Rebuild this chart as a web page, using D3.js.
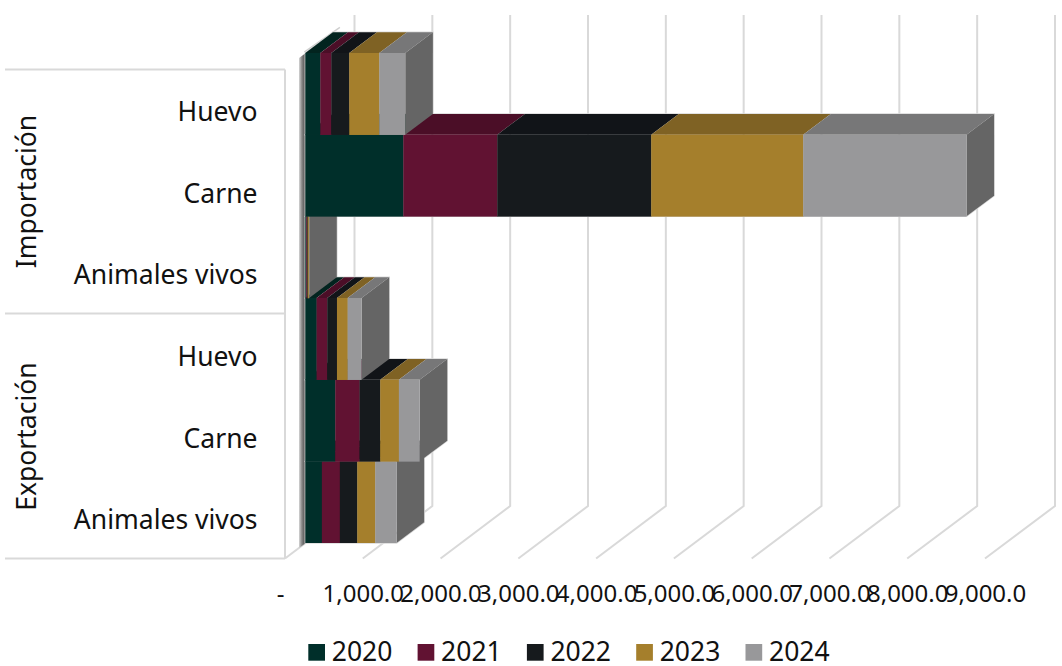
<!DOCTYPE html>
<html><head><meta charset="utf-8">
<script src="https://cdn.jsdelivr.net/npm/d3@7/dist/d3.min.js"></script>
<style>html,body{margin:0;padding:0;background:#fff}svg{display:block}text{font-family:"Noto Sans",sans-serif;font-size:26.5px;fill:#111}</style>
</head><body><svg id="c" width="1062" height="666"></svg>
<script>
const years=["2020","2021","2022","2023","2024"];
const groups=["Importación","Exportación"];
const products=["Huevo","Carne","Animales vivos"];
const rows=["Importación|Huevo","Importación|Carne","Importación|Animales vivos","Exportación|Huevo","Exportación|Carne","Exportación|Animales vivos"];
const v2020=[193,1260,12,145,385,213];
const v2021=[141,1208,10,137,312,231];
const v2022=[231,1979,8,125,266,224];
const v2023=[386,1954,15,137,240,231];
const v2024=[334,2100,5,180,267,274];
const tickValues=[0,1000,2000,3000,4000,5000,6000,7000,8000,9000];
const colors=["#002f2a","#611232","#161a1d","#a57f2c","#98989a"];
const topColors=["#02241f","#4b0e27","#111418","#7f6224","#777778"];
const sideColor="#656565";

const svg=d3.select("#c");
const table=rows.map((r,i)=>({row:r,"2020":v2020[i],"2021":v2021[i],"2022":v2022[i],"2023":v2023[i],"2024":v2024[i]}));
const stacked=d3.stack().keys(years)(table);

const x=d3.scaleLinear().domain([0,9000]).range([305.3,1005.3]);
const xFront=d3.scaleLinear().domain([0,9000]).range([285,985]);
const xBack=d3.scaleLinear().domain([0,9000]).range([354.5,1055]);
const y=d3.scaleBand().domain(rows).range([53,543]);
const dx=27.6,dy=-20.7;
const floorFront=558.5,floorBack=506,wallTop=15;
const gridColor="#d9d9d9";
const pts=a=>a.map(p=>p.join(",")).join(" ");

svg.append("g").selectAll("polyline").data(tickValues).join("polyline")
  .attr("points",v=>pts([[xFront(v),floorFront],[xBack(v),floorBack],[xBack(v),wallTop]]))
  .attr("fill","none").attr("stroke",gridColor).attr("stroke-width",2);

const frame=svg.append("g").attr("stroke",gridColor).attr("stroke-width",2).attr("fill","none");
[69.5,313.5,558.5].forEach(yy=>frame.append("line").attr("x1",5).attr("x2",285).attr("y1",yy).attr("y2",yy));
frame.append("line").attr("x1",285).attr("x2",285).attr("y1",69.5).attr("y2",558.5);

const defs=svg.append("defs");
const grad=defs.append("linearGradient").attr("id","wall");
grad.append("stop").attr("offset","0").attr("stop-color","#d5d5d5");
grad.append("stop").attr("offset","0.4").attr("stop-color","#8a8a8a");
grad.append("stop").attr("offset","1").attr("stop-color","#404040");
svg.append("polygon").attr("points",pts([[299,58],[x(0)+0.5,53],[x(0)+0.5,543],[299,548]])).attr("fill","url(#wall)");
svg.append("line").attr("x1",x(0)-1).attr("y1",52).attr("x2",x(0)+dx+7).attr("y2",53+dy-5)
  .attr("stroke","#cfcfcf").attr("stroke-width",1.5);

const order=rows.map((r,i)=>i).reverse();
const outlines=svg.append("g");
order.forEach(i=>{
  const y0=y(rows[i]),y1=y0+y.bandwidth();
  const end=stacked[stacked.length-1][i][1];
  outlines.append("polygon").attr("points",pts([[x(0),y1],[x(0),y0],[x(0)+dx,y0+dy],[x(end)+dx,y0+dy],[x(end)+dx,y1+dy],[x(end),y1]]))
    .attr("fill","none").attr("stroke",gridColor).attr("stroke-width",1.5);
});
const barsG=svg.append("g");
order.forEach(i=>{
  const r=rows[i],y0=y(r),y1=y0+y.bandwidth();
  const g=barsG.append("g");
  const end=stacked[stacked.length-1][i][1];
  stacked.forEach((s,k)=>{
    const a=x(s[i][0]),b=x(s[i][1]);
    g.append("polygon").attr("points",pts([[a,y0],[a+dx,y0+dy],[b+dx,y0+dy],[b,y0]])).attr("fill",topColors[k]);
  });
  g.append("polygon").attr("points",pts([[x(end),y0],[x(end)+dx,y0+dy],[x(end)+dx,y1+dy],[x(end),y1]])).attr("fill",sideColor);
  stacked.forEach((s,k)=>{
    g.append("rect").attr("x",x(s[i][0])).attr("y",y0).attr("width",x(s[i][1])-x(s[i][0])+(k<4?0.3:0)).attr("height",y.bandwidth()+(i<5?0.3:0)).attr("fill",colors[k]);
  });
});

svg.append("g").selectAll("text").data(rows).join("text")
  .attr("x",257.5).attr("y",r=>y(r)+y.bandwidth()/2+27.2).attr("text-anchor","end")
  .text(r=>r.split("|")[1]);

groups.forEach(gr=>{
  const rs=rows.filter(r=>r.startsWith(gr));
  const c=(y(rs[0])+y(rs[2])+y.bandwidth())/2+16;
  svg.append("text").attr("transform",`translate(36,${c}) rotate(-90)`).attr("text-anchor","middle").text(gr);
});

const axis=d3.axisBottom(xFront).tickValues(tickValues).tickSize(0).tickPadding(0)
  .tickFormat(v=>v===0?"-":d3.format(",.1f")(v));
const ax=svg.append("g").attr("transform","translate(0,584)").call(axis);
ax.select(".domain").remove();
ax.selectAll("text").attr("dy",0).attr("y",18).style("font-size","24px").style("font-family",'"Noto Sans",sans-serif').attr("fill","#111");
ax.selectAll("text").filter(v=>v===0).attr("dx",-5);

const legendX=d3.scalePoint().domain(years).range([308.3,745.5]);
const leg=svg.append("g").selectAll("g").data(years).join("g").attr("transform",d=>`translate(${legendX(d)},644)`);
leg.append("rect").attr("width",16.7).attr("height",16.7).attr("fill",(d,i)=>colors[i]);
leg.append("text").attr("x",23.5).attr("y",17).style("font-size","26.5px").text(d=>d);
</script></body></html>
